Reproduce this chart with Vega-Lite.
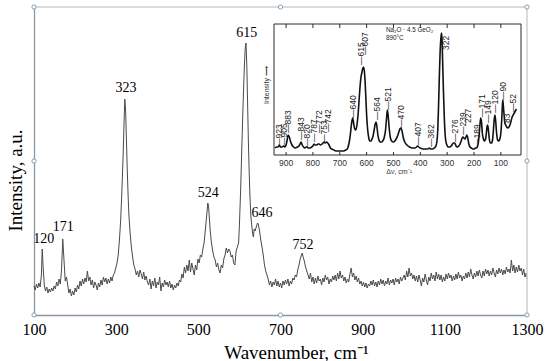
{
  "$schema": "https://vega.github.io/schema/vega-lite/v6.json",
  "width": 493,
  "height": 308,
  "autosize": "none",
  "padding": {"left": 34, "top": 7, "right": 23, "bottom": 46},
  "background": "white",
  "config": {
    "view": {"stroke": null},
    "axis": {"grid": false, "ticks": false, "domainColor": "#8a96a3", "domainWidth": 1.3, "labelFont": "Liberation Serif", "labelFontSize": 16, "labelColor": "#000", "titleFont": "Liberation Serif", "titleFontSize": 19, "titleFontWeight": "normal", "titleColor": "#000"},
    "axisX": {"labelPadding": 6, "titleX": 262, "titleY": 43, "titleBaseline": "alphabetic", "labelFlush": false},
    "axisY": {"labels": false, "titleX": -13, "titleY": 173, "titleBaseline": "alphabetic", "titleAngle": 270}
  },
  "datasets": {
    "main": [
      {"x":100,"y":29},{"x":103,"y":25},{"x":106,"y":31},{"x":109,"y":27},{"x":112,"y":32},{"x":115,"y":28},{"x":118,"y":40},{"x":120,"y":66},{"x":122,"y":50},{"x":125,"y":30},{"x":128,"y":24},{"x":131,"y":28},{"x":134,"y":22},{"x":137,"y":26},{"x":140,"y":23},{"x":143,"y":27},{"x":146,"y":24},{"x":149,"y":29},{"x":152,"y":26},{"x":155,"y":33},{"x":158,"y":29},{"x":161,"y":36},{"x":164,"y":31},{"x":167,"y":45},{"x":170,"y":76},{"x":173,"y":55},{"x":176,"y":34},{"x":179,"y":38},{"x":182,"y":30},{"x":185,"y":22},{"x":188,"y":26},{"x":191,"y":19},{"x":194,"y":24},{"x":197,"y":20},{"x":200,"y":27},{"x":203,"y":23},{"x":206,"y":30},{"x":209,"y":26},{"x":212,"y":34},{"x":215,"y":29},{"x":218,"y":36},{"x":221,"y":31},{"x":224,"y":37},{"x":227,"y":33},{"x":230,"y":44},{"x":233,"y":34},{"x":236,"y":38},{"x":239,"y":30},{"x":242,"y":35},{"x":245,"y":27},{"x":248,"y":33},{"x":251,"y":30},{"x":254,"y":25},{"x":257,"y":32},{"x":260,"y":28},{"x":263,"y":35},{"x":266,"y":30},{"x":269,"y":38},{"x":272,"y":33},{"x":275,"y":37},{"x":278,"y":31},{"x":281,"y":36},{"x":284,"y":32},{"x":287,"y":38},{"x":290,"y":34},{"x":293,"y":40},{"x":296,"y":42},{"x":299,"y":47},{"x":302,"y":52},{"x":305,"y":60},{"x":308,"y":75},{"x":311,"y":95},{"x":314,"y":125},{"x":317,"y":160},{"x":319,"y":190},{"x":321,"y":216},{"x":323,"y":205},{"x":325,"y":175},{"x":327,"y":145},{"x":329,"y":120},{"x":331,"y":100},{"x":334,"y":82},{"x":337,"y":68},{"x":340,"y":58},{"x":343,"y":50},{"x":346,"y":46},{"x":349,"y":40},{"x":352,"y":44},{"x":355,"y":38},{"x":358,"y":45},{"x":361,"y":41},{"x":364,"y":36},{"x":367,"y":43},{"x":370,"y":35},{"x":373,"y":39},{"x":376,"y":33},{"x":379,"y":30},{"x":382,"y":36},{"x":385,"y":26},{"x":388,"y":34},{"x":391,"y":29},{"x":394,"y":37},{"x":397,"y":27},{"x":400,"y":33},{"x":403,"y":30},{"x":406,"y":38},{"x":409,"y":24},{"x":412,"y":32},{"x":415,"y":28},{"x":418,"y":35},{"x":421,"y":30},{"x":424,"y":33},{"x":427,"y":28},{"x":430,"y":34},{"x":433,"y":27},{"x":436,"y":31},{"x":439,"y":25},{"x":442,"y":30},{"x":445,"y":27},{"x":448,"y":32},{"x":451,"y":29},{"x":454,"y":35},{"x":457,"y":33},{"x":460,"y":41},{"x":463,"y":37},{"x":466,"y":48},{"x":469,"y":42},{"x":472,"y":50},{"x":475,"y":44},{"x":478,"y":55},{"x":481,"y":43},{"x":484,"y":52},{"x":487,"y":46},{"x":490,"y":40},{"x":493,"y":50},{"x":496,"y":45},{"x":499,"y":56},{"x":502,"y":52},{"x":505,"y":60},{"x":508,"y":58},{"x":511,"y":66},{"x":514,"y":72},{"x":517,"y":85},{"x":520,"y":98},{"x":523,"y":112},{"x":525,"y":108},{"x":527,"y":96},{"x":529,"y":84},{"x":532,"y":72},{"x":535,"y":64},{"x":538,"y":58},{"x":541,"y":55},{"x":544,"y":48},{"x":547,"y":52},{"x":550,"y":45},{"x":553,"y":42},{"x":556,"y":50},{"x":559,"y":47},{"x":562,"y":56},{"x":565,"y":60},{"x":568,"y":67},{"x":571,"y":62},{"x":574,"y":66},{"x":577,"y":64},{"x":580,"y":58},{"x":583,"y":60},{"x":586,"y":52},{"x":589,"y":50},{"x":592,"y":64},{"x":595,"y":68},{"x":598,"y":72},{"x":600,"y":90},{"x":603,"y":125},{"x":606,"y":170},{"x":609,"y":212},{"x":612,"y":248},{"x":614,"y":266},{"x":616,"y":272},{"x":618,"y":250},{"x":620,"y":210},{"x":622,"y":170},{"x":624,"y":140},{"x":626,"y":115},{"x":628,"y":98},{"x":630,"y":90},{"x":632,"y":82},{"x":634,"y":78},{"x":636,"y":86},{"x":638,"y":84},{"x":641,"y":88},{"x":644,"y":92},{"x":646,"y":91},{"x":649,"y":84},{"x":652,"y":75},{"x":655,"y":68},{"x":658,"y":60},{"x":661,"y":50},{"x":664,"y":44},{"x":667,"y":40},{"x":670,"y":36},{"x":673,"y":30},{"x":676,"y":34},{"x":679,"y":28},{"x":682,"y":33},{"x":685,"y":30},{"x":688,"y":36},{"x":691,"y":29},{"x":694,"y":34},{"x":697,"y":28},{"x":700,"y":32},{"x":703,"y":27},{"x":706,"y":34},{"x":709,"y":30},{"x":712,"y":35},{"x":715,"y":31},{"x":718,"y":36},{"x":721,"y":29},{"x":724,"y":34},{"x":727,"y":31},{"x":730,"y":37},{"x":733,"y":35},{"x":736,"y":40},{"x":739,"y":38},{"x":742,"y":45},{"x":745,"y":50},{"x":748,"y":56},{"x":751,"y":60},{"x":753,"y":62},{"x":755,"y":58},{"x":758,"y":54},{"x":761,"y":48},{"x":764,"y":44},{"x":767,"y":40},{"x":770,"y":36},{"x":773,"y":42},{"x":776,"y":33},{"x":779,"y":38},{"x":782,"y":31},{"x":785,"y":37},{"x":788,"y":32},{"x":791,"y":39},{"x":794,"y":34},{"x":797,"y":36},{"x":800,"y":30},{"x":803,"y":37},{"x":806,"y":33},{"x":809,"y":40},{"x":812,"y":35},{"x":815,"y":38},{"x":818,"y":31},{"x":821,"y":36},{"x":824,"y":33},{"x":827,"y":39},{"x":830,"y":35},{"x":833,"y":40},{"x":836,"y":34},{"x":839,"y":42},{"x":842,"y":36},{"x":845,"y":44},{"x":848,"y":37},{"x":851,"y":40},{"x":854,"y":34},{"x":857,"y":38},{"x":860,"y":32},{"x":863,"y":36},{"x":866,"y":33},{"x":869,"y":41},{"x":872,"y":47},{"x":875,"y":38},{"x":878,"y":42},{"x":881,"y":35},{"x":884,"y":39},{"x":887,"y":33},{"x":890,"y":37},{"x":893,"y":31},{"x":896,"y":34},{"x":899,"y":29},{"x":902,"y":33},{"x":905,"y":28},{"x":908,"y":32},{"x":911,"y":27},{"x":914,"y":31},{"x":917,"y":29},{"x":920,"y":34},{"x":923,"y":30},{"x":926,"y":35},{"x":929,"y":29},{"x":932,"y":33},{"x":935,"y":28},{"x":938,"y":34},{"x":941,"y":30},{"x":944,"y":36},{"x":947,"y":31},{"x":950,"y":35},{"x":953,"y":29},{"x":956,"y":34},{"x":959,"y":31},{"x":962,"y":37},{"x":965,"y":30},{"x":968,"y":35},{"x":971,"y":32},{"x":974,"y":36},{"x":977,"y":30},{"x":980,"y":37},{"x":983,"y":33},{"x":986,"y":36},{"x":989,"y":31},{"x":992,"y":38},{"x":995,"y":34},{"x":998,"y":37},{"x":1001,"y":40},{"x":1004,"y":35},{"x":1007,"y":44},{"x":1010,"y":38},{"x":1013,"y":47},{"x":1016,"y":39},{"x":1019,"y":42},{"x":1022,"y":36},{"x":1025,"y":40},{"x":1028,"y":34},{"x":1031,"y":39},{"x":1034,"y":33},{"x":1037,"y":40},{"x":1040,"y":35},{"x":1043,"y":29},{"x":1046,"y":37},{"x":1049,"y":33},{"x":1052,"y":41},{"x":1055,"y":35},{"x":1058,"y":30},{"x":1061,"y":38},{"x":1064,"y":34},{"x":1067,"y":42},{"x":1070,"y":36},{"x":1073,"y":40},{"x":1076,"y":34},{"x":1079,"y":43},{"x":1082,"y":36},{"x":1085,"y":41},{"x":1088,"y":35},{"x":1091,"y":40},{"x":1094,"y":33},{"x":1097,"y":38},{"x":1100,"y":34},{"x":1103,"y":41},{"x":1106,"y":36},{"x":1109,"y":42},{"x":1112,"y":37},{"x":1115,"y":40},{"x":1118,"y":34},{"x":1121,"y":39},{"x":1124,"y":35},{"x":1127,"y":41},{"x":1130,"y":36},{"x":1133,"y":43},{"x":1136,"y":37},{"x":1139,"y":40},{"x":1142,"y":34},{"x":1145,"y":39},{"x":1148,"y":36},{"x":1151,"y":42},{"x":1154,"y":37},{"x":1157,"y":43},{"x":1160,"y":38},{"x":1163,"y":46},{"x":1166,"y":40},{"x":1169,"y":36},{"x":1172,"y":42},{"x":1175,"y":38},{"x":1178,"y":44},{"x":1181,"y":39},{"x":1184,"y":45},{"x":1187,"y":40},{"x":1190,"y":37},{"x":1193,"y":44},{"x":1196,"y":39},{"x":1199,"y":46},{"x":1202,"y":41},{"x":1205,"y":45},{"x":1208,"y":39},{"x":1211,"y":44},{"x":1214,"y":40},{"x":1217,"y":47},{"x":1220,"y":42},{"x":1223,"y":38},{"x":1226,"y":45},{"x":1229,"y":41},{"x":1232,"y":47},{"x":1235,"y":42},{"x":1238,"y":46},{"x":1241,"y":40},{"x":1244,"y":45},{"x":1247,"y":41},{"x":1250,"y":48},{"x":1253,"y":43},{"x":1256,"y":46},{"x":1259,"y":42},{"x":1262,"y":55},{"x":1265,"y":44},{"x":1268,"y":50},{"x":1271,"y":42},{"x":1274,"y":48},{"x":1277,"y":43},{"x":1280,"y":50},{"x":1283,"y":44},{"x":1286,"y":47},{"x":1289,"y":40},{"x":1292,"y":46},{"x":1295,"y":38},{"x":1298,"y":42},{"x":1300,"y":36}
    ],
    "mainlab": [
      {"x":124,"y":76,"t":"120"},{"x":171,"y":88,"t":"171"},{"x":324,"y":227,"t":"323"},{"x":524,"y":122,"t":"524"},{"x":618,"y":282,"t":"615"},{"x":655,"y":102,"t":"646"},{"x":755,"y":70,"t":"752"}
    ],
    "handles": [
      {"x":100,"y":0},{"x":700,"y":0},{"x":1300,"y":0},{"x":100,"y":154},{"x":1300,"y":154},{"x":100,"y":308},{"x":700,"y":308},{"x":1300,"y":308}
    ],
    "inset": [
      {"x":941,"v":7},{"x":935,"v":8},{"x":930,"v":8},{"x":925,"v":10},{"x":921,"v":8},{"x":915,"v":8},{"x":910,"v":9},{"x":905,"v":8},{"x":900,"v":10},{"x":896,"v":15},{"x":892,"v":20},{"x":888,"v":18},{"x":884,"v":14},{"x":878,"v":10},{"x":872,"v":8},{"x":865,"v":7},{"x":858,"v":8},{"x":852,"v":9},{"x":848,"v":11},{"x":844,"v":13},{"x":840,"v":10},{"x":835,"v":8},{"x":830,"v":7},{"x":825,"v":8},{"x":822,"v":8},{"x":818,"v":7},{"x":812,"v":7},{"x":805,"v":8},{"x":800,"v":9},{"x":796,"v":11},{"x":792,"v":10},{"x":786,"v":10},{"x":781,"v":11},{"x":777,"v":11},{"x":772,"v":10},{"x":766,"v":11},{"x":762,"v":12},{"x":758,"v":13},{"x":754,"v":12},{"x":749,"v":13},{"x":745,"v":12},{"x":740,"v":10},{"x":735,"v":7},{"x":730,"v":6},{"x":722,"v":5},{"x":715,"v":4},{"x":705,"v":4},{"x":695,"v":4},{"x":685,"v":4},{"x":678,"v":5},{"x":672,"v":6},{"x":668,"v":9},{"x":664,"v":14},{"x":660,"v":22},{"x":656,"v":32},{"x":652,"v":37},{"x":648,"v":31},{"x":644,"v":26},{"x":640,"v":25},{"x":636,"v":30},{"x":632,"v":40},{"x":628,"v":55},{"x":624,"v":70},{"x":621,"v":78},{"x":618,"v":82},{"x":615,"v":86},{"x":612,"v":88},{"x":609,"v":85},{"x":606,"v":75},{"x":603,"v":58},{"x":600,"v":40},{"x":596,"v":25},{"x":592,"v":17},{"x":588,"v":14},{"x":584,"v":14},{"x":580,"v":16},{"x":576,"v":19},{"x":572,"v":25},{"x":568,"v":31},{"x":565,"v":33},{"x":562,"v":29},{"x":558,"v":20},{"x":554,"v":15},{"x":550,"v":13},{"x":545,"v":13},{"x":540,"v":14},{"x":535,"v":17},{"x":530,"v":24},{"x":526,"v":36},{"x":523,"v":45},{"x":520,"v":40},{"x":516,"v":27},{"x":512,"v":18},{"x":507,"v":14},{"x":500,"v":13},{"x":495,"v":14},{"x":490,"v":16},{"x":485,"v":19},{"x":480,"v":23},{"x":476,"v":26},{"x":472,"v":27},{"x":468,"v":24},{"x":464,"v":18},{"x":458,"v":13},{"x":450,"v":10},{"x":440,"v":8},{"x":430,"v":7},{"x":420,"v":7},{"x":414,"v":8},{"x":410,"v":9},{"x":406,"v":8},{"x":400,"v":7},{"x":390,"v":6},{"x":380,"v":6},{"x":372,"v":6},{"x":366,"v":7},{"x":362,"v":6},{"x":355,"v":6},{"x":348,"v":7},{"x":342,"v":9},{"x":338,"v":14},{"x":335,"v":25},{"x":332,"v":50},{"x":329,"v":80},{"x":326,"v":105},{"x":323,"v":118},{"x":321,"v":122},{"x":319,"v":115},{"x":317,"v":95},{"x":314,"v":65},{"x":311,"v":40},{"x":308,"v":22},{"x":305,"v":14},{"x":301,"v":10},{"x":296,"v":8},{"x":290,"v":8},{"x":285,"v":9},{"x":280,"v":11},{"x":276,"v":12},{"x":272,"v":12},{"x":267,"v":9},{"x":262,"v":8},{"x":257,"v":9},{"x":252,"v":11},{"x":248,"v":14},{"x":244,"v":17},{"x":241,"v":18},{"x":238,"v":17},{"x":234,"v":16},{"x":230,"v":18},{"x":227,"v":20},{"x":224,"v":18},{"x":220,"v":12},{"x":215,"v":8},{"x":210,"v":7},{"x":204,"v":6},{"x":199,"v":6},{"x":195,"v":7},{"x":192,"v":7},{"x":188,"v":8},{"x":184,"v":12},{"x":181,"v":20},{"x":178,"v":30},{"x":175,"v":37},{"x":172,"v":33},{"x":169,"v":22},{"x":165,"v":16},{"x":161,"v":14},{"x":157,"v":16},{"x":154,"v":22},{"x":151,"v":29},{"x":149,"v":30},{"x":146,"v":24},{"x":143,"v":16},{"x":139,"v":12},{"x":135,"v":12},{"x":131,"v":15},{"x":128,"v":24},{"x":125,"v":35},{"x":122,"v":40},{"x":119,"v":33},{"x":116,"v":22},{"x":112,"v":15},{"x":108,"v":14},{"x":104,"v":16},{"x":100,"v":22},{"x":97,"v":34},{"x":95,"v":46},{"x":93,"v":55},{"x":91,"v":50},{"x":88,"v":40},{"x":85,"v":32},{"x":82,"v":30},{"x":78,"v":28},{"x":74,"v":27},{"x":70,"v":28},{"x":66,"v":30},{"x":62,"v":34},{"x":58,"v":38},{"x":54,"v":40},{"x":50,"v":42},{"x":46,"v":44},{"x":42,"v":46}
    ],
    "insetlab": [
      {"x":926,"v":8,"t":"—923"},{"x":908,"v":9,"t":"—905"},{"x":893,"v":22,"t":"—883"},{"x":844,"v":15,"t":"—843"},{"x":822,"v":8,"t":"—820"},{"x":796,"v":13,"t":"—787"},{"x":777,"v":22,"t":"—772"},{"x":759,"v":12,"t":"—753"},{"x":744,"v":23,"t":"—742"},{"x":651,"v":37,"t":"—640"},{"x":621,"v":90,"t":"—615"},{"x":606,"v":100,"t":"—607"},{"x":561,"v":35,"t":"—564"},{"x":520,"v":45,"t":"—521"},{"x":472,"v":27,"t":"—470"},{"x":409,"v":10,"t":"—407"},{"x":360,"v":8,"t":"—362"},{"x":304,"v":105,"t":"322"},{"x":271,"v":13,"t":"—276"},{"x":241,"v":20,"t":"—239"},{"x":222,"v":32,"t":"227"},{"x":189,"v":8,"t":"—189"},{"x":170,"v":38,"t":"—171"},{"x":148,"v":32,"t":"—149"},{"x":122,"v":42,"t":"—120"},{"x":92,"v":55,"t":"—90"},{"x":77,"v":32,"t":"83"},{"x":55,"v":43,"t":"—52"}
    ],
    "insetticks": [
      {"t":900},{"t":800},{"t":700},{"t":600},{"t":500},{"t":400},{"t":300},{"t":200},{"t":100}
    ],
    "one": [{}]
  },
  "layer": [
    {
      "layer": [
        {
          "data": {"name": "main"},
          "mark": {"type": "line", "color": "#4a4a4a", "strokeWidth": 1},
          "encoding": {
            "x": {"field": "x", "type": "quantitative", "scale": {"domain": [100, 1300], "nice": false, "zero": false}, "title": "Wavenumber, cm⁻¹", "axis": {"values": [100, 300, 500, 700, 900, 1100, 1300], "format": "d"}},
            "y": {"field": "y", "type": "quantitative", "scale": {"domain": [0, 308], "nice": false, "zero": false}, "title": "Intensity, a.u."}
          }
        },
        {
          "data": {"name": "mainlab"},
          "mark": {"type": "text", "font": "Liberation Serif", "fontSize": 14, "color": "#000", "baseline": "middle"},
          "encoding": {
            "x": {"field": "x", "type": "quantitative", "title": "Wavenumber, cm⁻¹"},
            "y": {"field": "y", "type": "quantitative", "title": "Intensity, a.u."},
            "text": {"field": "t"}
          }
        },
        {
          "data": {"name": "one"},
          "mark": {"type": "rule", "color": "#cfcfcf", "strokeWidth": 1.5},
          "encoding": {
            "x": {"datum": 100, "type": "quantitative"},
            "x2": {"datum": 1300},
            "y": {"datum": 308, "type": "quantitative"}
          }
        },
        {
          "data": {"name": "one"},
          "mark": {"type": "rule", "color": "#cfcfcf", "strokeWidth": 1.5},
          "encoding": {
            "x": {"datum": 1300, "type": "quantitative"},
            "y": {"datum": 0, "type": "quantitative"},
            "y2": {"datum": 308}
          }
        },
        {
          "data": {"name": "handles"},
          "mark": {"type": "point", "shape": "circle", "filled": true, "fill": "white", "stroke": "#7fa3b8", "strokeWidth": 1, "size": 18, "opacity": 1, "clip": false},
          "encoding": {
            "x": {"field": "x", "type": "quantitative", "title": "Wavenumber, cm⁻¹"},
            "y": {"field": "y", "type": "quantitative", "title": "Intensity, a.u."}
          }
        }
      ]
    },
    {
      "layer": [
        {
          "data": {"name": "inset"},
          "mark": {"type": "line", "color": "#111", "strokeWidth": 1.6, "interpolate": "monotone"},
          "encoding": {
            "x": {"field": "x", "type": "quantitative", "scale": {"domain": [25, 945], "range": [487, 240], "nice": false, "zero": false}, "axis": null},
            "y": {"field": "v", "type": "quantitative", "scale": {"domain": [0, 131], "range": [148, 17], "nice": false, "zero": false}, "axis": null}
          }
        },
        {
          "data": {"name": "one"},
          "mark": {"type": "rule", "color": "#2a2a2a", "strokeWidth": 1},
          "encoding": {
            "x": {"datum": 945, "type": "quantitative", "axis": null},
            "x2": {"datum": 25},
            "y": {"datum": 0, "type": "quantitative", "axis": null}
          }
        },
        {
          "data": {"name": "one"},
          "mark": {"type": "rule", "color": "#2a2a2a", "strokeWidth": 1},
          "encoding": {
            "x": {"datum": 945, "type": "quantitative", "axis": null},
            "x2": {"datum": 25},
            "y": {"datum": 131, "type": "quantitative", "axis": null}
          }
        },
        {
          "data": {"name": "one"},
          "mark": {"type": "rule", "color": "#2a2a2a", "strokeWidth": 1},
          "encoding": {
            "x": {"datum": 945, "type": "quantitative", "axis": null},
            "y": {"datum": 0, "type": "quantitative", "axis": null},
            "y2": {"datum": 131}
          }
        },
        {
          "data": {"name": "one"},
          "mark": {"type": "rule", "color": "#2a2a2a", "strokeWidth": 1},
          "encoding": {
            "x": {"datum": 25, "type": "quantitative", "axis": null},
            "y": {"datum": 0, "type": "quantitative", "axis": null},
            "y2": {"datum": 131}
          }
        },
        {
          "data": {"name": "insetticks"},
          "mark": {"type": "rule", "color": "#2a2a2a", "strokeWidth": 1},
          "encoding": {
            "x": {"field": "t", "type": "quantitative", "axis": null},
            "y": {"datum": 0, "type": "quantitative", "axis": null},
            "y2": {"datum": 3}
          }
        },
        {
          "data": {"name": "insetticks"},
          "mark": {"type": "rule", "color": "#2a2a2a", "strokeWidth": 1},
          "encoding": {
            "x": {"field": "t", "type": "quantitative", "axis": null},
            "y": {"datum": 127, "type": "quantitative", "axis": null},
            "y2": {"datum": 131}
          }
        },
        {
          "data": {"name": "insetticks"},
          "mark": {"type": "text", "font": "Liberation Sans", "fontSize": 8.5, "color": "#333", "baseline": "middle"},
          "encoding": {
            "x": {"field": "t", "type": "quantitative", "axis": null},
            "y": {"datum": -8, "type": "quantitative", "axis": null},
            "text": {"field": "t"}
          }
        },
        {
          "data": {"name": "insetlab"},
          "mark": {"type": "text", "font": "Liberation Sans", "fontSize": 8.5, "color": "#222", "angle": 270, "align": "left", "baseline": "middle"},
          "encoding": {
            "x": {"field": "x", "type": "quantitative", "axis": null},
            "y": {"field": "v", "type": "quantitative", "axis": null},
            "text": {"field": "t"}
          }
        },
        {
          "data": {"name": "one"},
          "mark": {"type": "text", "text": "Na₂O · 4.5 GeO₂", "font": "Liberation Sans", "fontSize": 6.3, "color": "#222", "align": "left", "baseline": "middle"},
          "encoding": {
            "x": {"datum": 528, "type": "quantitative", "axis": null},
            "y": {"datum": 125, "type": "quantitative", "axis": null}
          }
        },
        {
          "data": {"name": "one"},
          "mark": {"type": "text", "text": "890°C", "font": "Liberation Sans", "fontSize": 6.3, "color": "#222", "align": "left", "baseline": "middle"},
          "encoding": {
            "x": {"datum": 528, "type": "quantitative", "axis": null},
            "y": {"datum": 117, "type": "quantitative", "axis": null}
          }
        },
        {
          "data": {"name": "one"},
          "mark": {"type": "text", "text": "Intensity ⟶", "font": "Liberation Sans", "fontSize": 7, "color": "#333", "angle": 270, "align": "center", "baseline": "middle"},
          "encoding": {
            "x": {"datum": 971, "type": "quantitative", "axis": null},
            "y": {"datum": 70, "type": "quantitative", "axis": null}
          }
        },
        {
          "data": {"name": "one"},
          "mark": {"type": "text", "text": "Δν, cm⁻¹", "font": "Liberation Sans", "fontSize": 7, "color": "#333", "align": "center", "baseline": "middle"},
          "encoding": {
            "x": {"datum": 479, "type": "quantitative", "axis": null},
            "y": {"datum": -17, "type": "quantitative", "axis": null}
          }
        }
      ]
    }
  ],
  "resolve": {"scale": {"x": "independent", "y": "independent"}}
}
